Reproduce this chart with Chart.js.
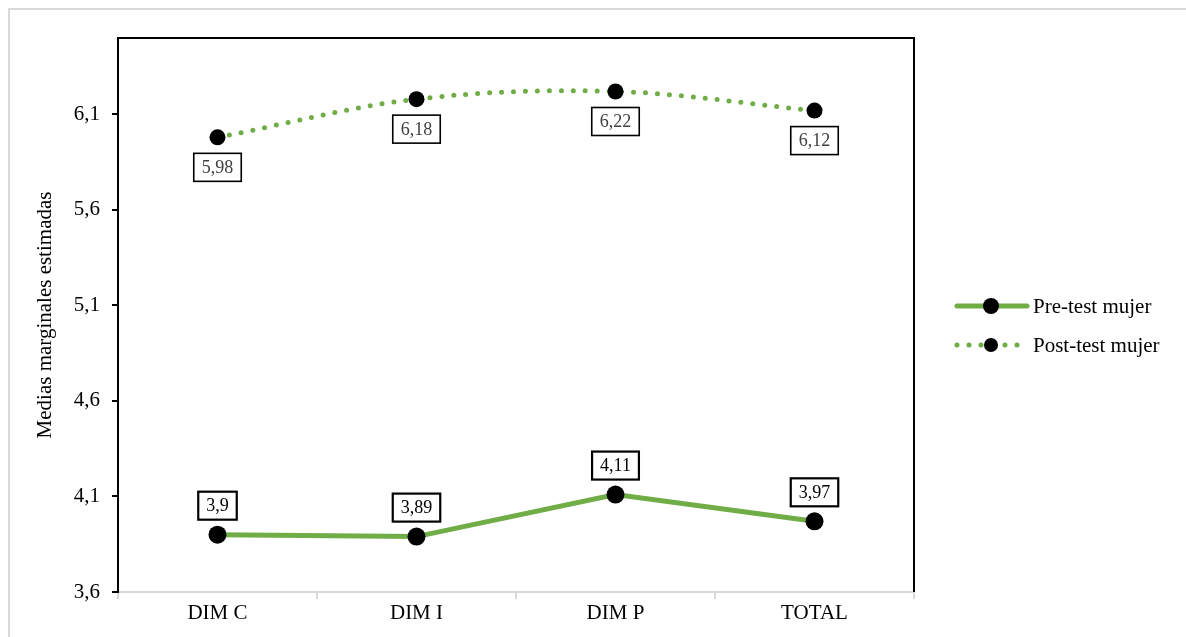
<!DOCTYPE html>
<html lang="es">
<head>
<meta charset="utf-8">
<title>Medias marginales estimadas</title>
<script src="https://cdn.jsdelivr.net/npm/chart.js@4.4.1/dist/chart.umd.min.js"></script>
<style>
  html, body { margin: 0; padding: 0; background: #ffffff; }
  #wrap { position: relative; width: 1186px; height: 637px; overflow: hidden; }
  #frame { position: absolute; left: 8px; top: 8px; width: 1300px; height: 700px;
           border-top: 2px solid #d9d9d9; border-left: 2px solid #d9d9d9; box-sizing: border-box; }
  #c { position: absolute; left: 0; top: 0; }
</style>
</head>
<body>
<div id="wrap">
  <div id="frame"></div>
  <canvas id="c" width="1186" height="637"></canvas>
</div>
<script>
const categories = ['DIM C', 'DIM I', 'DIM P', 'TOTAL'];
const preTestMujer = [3.9, 3.89, 4.11, 3.97];
const postTestMujer = [5.98, 6.18, 6.22, 6.12];
const yTicks = [3.6, 4.1, 4.6, 5.1, 5.6, 6.1];

const GREEN = '#70ad47';
const SERIF = '"Liberation Serif", "Times New Roman", serif';
const comma = v => String(v).replace('.', ',');

// Boxed value labels above (pre-test) or below (post-test) each point
const valueBoxes = {
  id: 'valueBoxes',
  afterDatasetsDraw(chart) {
    const ctx = chart.ctx;
    chart.data.datasets.forEach((ds, i) => {
      const meta = chart.getDatasetMeta(i);
      const cfg = ds.boxLabel;
      meta.data.forEach((pt, j) => {
        const txt = comma(ds.data[j]);
        ctx.save();
        ctx.font = '18px ' + SERIF;
        const w = ctx.measureText(txt).width + 16;
        const h = 28;
        const cx = pt.x, cy = pt.y + cfg.offset;
        ctx.fillStyle = '#ffffff';
        ctx.fillRect(cx - w / 2, cy - h / 2, w, h);
        ctx.lineWidth = cfg.border;
        ctx.strokeStyle = '#000000';
        ctx.strokeRect(cx - w / 2, cy - h / 2, w, h);
        ctx.fillStyle = cfg.color;
        ctx.textAlign = 'center';
        ctx.textBaseline = 'middle';
        ctx.fillText(txt, cx, cy + 1);
        ctx.restore();
      });
    });
  }
};

// Top and right edges of the plot frame
const plotFrame = {
  id: 'plotFrame',
  afterDraw(chart) {
    const {ctx, chartArea: a} = chart;
    ctx.save();
    ctx.strokeStyle = '#000000';
    ctx.lineWidth = 2;
    ctx.beginPath();
    ctx.moveTo(a.left, a.top);
    ctx.lineTo(a.right, a.top);
    ctx.lineTo(a.right, a.bottom);
    ctx.stroke();
    ctx.restore();
  }
};

// Legend on the right: line sample with marker in the middle
const sideLegend = {
  id: 'sideLegend',
  afterDraw(chart) {
    const ctx = chart.ctx;
    const x0 = 955, x1 = 1027, xm = 991;
    const ys = [306, 345];
    chart.data.datasets.forEach((ds, i) => {
      const y = ys[i];
      ctx.save();
      ctx.strokeStyle = ds.borderColor;
      ctx.lineWidth = ds.borderWidth;
      ctx.lineCap = 'round';
      if (ds.borderDash) ctx.setLineDash(ds.borderDash);
      ctx.beginPath();
      ctx.moveTo(x0 + 2, y);
      ctx.lineTo(x1, y);
      ctx.stroke();
      ctx.setLineDash([]);
      ctx.fillStyle = '#000000';
      ctx.beginPath();
      ctx.arc(xm, y, ds.pointRadius - 1, 0, Math.PI * 2);
      ctx.fill();
      ctx.font = '21px ' + SERIF;
      ctx.fillStyle = '#000000';
      ctx.textAlign = 'left';
      ctx.textBaseline = 'middle';
      ctx.fillText(ds.label, 1033, y + 1);
      ctx.restore();
    });
  }
};

new Chart(document.getElementById('c'), {
  type: 'line',
  data: {
    labels: categories,
    datasets: [
      {
        label: 'Pre-test mujer',
        data: preTestMujer,
        borderColor: GREEN,
        borderWidth: 5,
        tension: 0,
        pointRadius: 9,
        pointHoverRadius: 9,
        pointBackgroundColor: '#000000',
        pointBorderWidth: 0,
        boxLabel: { offset: -29, border: 2.2, color: '#000000' }
      },
      {
        label: 'Post-test mujer',
        data: postTestMujer,
        borderColor: GREEN,
        borderWidth: 5,
        borderDash: [0, 12],
        borderCapStyle: 'round',
        tension: 0.35,
        pointRadius: 8,
        pointHoverRadius: 8,
        pointBackgroundColor: '#000000',
        pointBorderWidth: 0,
        boxLabel: { offset: 30, border: 1.6, color: '#404040' }
      }
    ]
  },
  options: {
    responsive: false,
    animation: false,
    events: [],
    layout: { padding: { top: 38, right: 272, left: 0, bottom: 0 } },
    plugins: { legend: { display: false }, tooltip: { enabled: false } },
    scales: {
      x: {
        offset: true,
        grid: { offset: true, drawOnChartArea: false, drawTicks: true, tickLength: 7, color: '#d9d9d9', lineWidth: 2 },
        border: { color: '#d9d9d9', width: 2 },
        ticks: { color: '#000000', font: { family: SERIF, size: 21 }, padding: 2 },
        afterFit(s) { s.height = 45; }
      },
      y: {
        min: 3.6,
        max: 6.5,
        afterBuildTicks(s) { s.ticks = yTicks.map(v => ({ value: v })); },
        grid: { drawOnChartArea: false, drawTicks: true, tickLength: 6, color: '#000000', lineWidth: 2 },
        border: { color: '#000000', width: 2 },
        ticks: { color: '#000000', font: { family: SERIF, size: 21 }, padding: 12, callback: v => comma(v) },
        title: { display: true, text: 'Medias marginales estimadas', color: '#000000',
                 font: { family: SERIF, size: 21 }, padding: { top: 33, bottom: 0 } },
        afterFit(s) { s.width = 118; }
      }
    }
  },
  plugins: [valueBoxes, plotFrame, sideLegend]
});
</script>
</body>
</html>
